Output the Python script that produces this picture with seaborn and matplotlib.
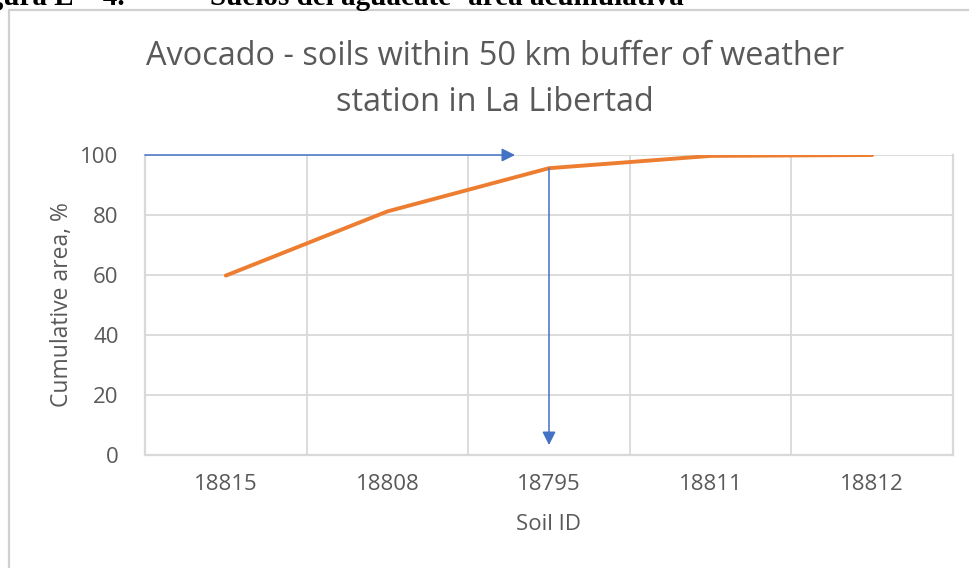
import matplotlib
matplotlib.use("Agg")
import matplotlib.pyplot as plt
from matplotlib.patches import Rectangle
import seaborn as sns
import pandas as pd

# Soils ranked by area, with their cumulative share of the buffer area
soil_ids = ["18815", "18808", "18795", "18811", "18812"]
cumulative_area = [59.8, 81.2, 95.6, 99.7, 100.0]
y_ticks = [0, 20, 40, 60, 80, 100]

# Guide arrows: across at 100 %, then down from soil 18795
arrow_level = 100
arrow_end_x = 1.79
drop_soil_index = 2
drop_from = 95.6
drop_to = 3.3

TEXT = "#595959"
GRID = "#D9D9D9"
ORANGE = "#ED7D31"
BLUE = "#4472C4"

sns.set_theme(style="white")
plt.rcParams["font.family"] = ["Open Sans", "DejaVu Sans"]

W, H = 970, 568
fig = plt.figure(figsize=(W / 100, H / 100), dpi=100)
ax = fig.add_axes([145 / W, 1 - 455 / H, (953 - 145) / W, 300 / H])

df = pd.DataFrame({"Soil ID": soil_ids, "Cumulative area, %": cumulative_area})
sns.lineplot(data=df, x="Soil ID", y="Cumulative area, %", sort=False,
             color=ORANGE, lw=2.8, ax=ax, zorder=3)

ax.set_xlim(-0.5, len(soil_ids) - 0.5)
ax.set_ylim(0, 100)
ax.set_yticks(y_ticks)
ax.set_xticks(range(len(soil_ids)))
ax.set_xticklabels(soil_ids)
ax.set_xticks([i + 0.5 for i in range(len(soil_ids))], minor=True)
ax.grid(True, axis="y", which="major", color=GRID, lw=1.3)
ax.grid(True, axis="x", which="minor", color=GRID, lw=1.3)
ax.grid(False, axis="x", which="major")
ax.tick_params(axis="both", which="both", length=0, colors=TEXT, labelsize=16)
ax.tick_params(axis="x", pad=14)
ax.tick_params(axis="y", pad=19)

for side in ["left", "bottom", "right"]:
    ax.spines[side].set_color(GRID)
    ax.spines[side].set_linewidth(1.6)
ax.spines["top"].set_visible(False)

ax.set_xlabel("Soil ID", color=TEXT, fontsize=16, va="center")
ax.set_ylabel("Cumulative area, %", color=TEXT, fontsize=16.5, va="center")
ax.xaxis.set_label_coords(0.5, (455 - 525) / 300)
ax.yaxis.set_label_coords((62 - 145) / 808, 0.5)

ax.annotate("", xy=(arrow_end_x, arrow_level), xytext=(-0.5, arrow_level),
            arrowprops=dict(arrowstyle="-|>", color=BLUE, lw=1.1,
                            mutation_scale=20, shrinkA=0, shrinkB=0),
            annotation_clip=False, zorder=4)
ax.annotate("", xy=(drop_soil_index, drop_to), xytext=(drop_soil_index, drop_from),
            arrowprops=dict(arrowstyle="-|>", color=BLUE, lw=1.1,
                            mutation_scale=20, shrinkA=0, shrinkB=0),
            annotation_clip=False, zorder=4)

fig.text(495 / W, 1 - 65 / H, "Avocado - soils within 50 km buffer of weather",
         ha="center", va="baseline", color=TEXT, fontsize=23.4)
fig.text(495 / W, 1 - 111 / H, "station in La Libertad",
         ha="center", va="baseline", color=TEXT, fontsize=23.4)

# Chart frame and the figure caption above it
fig.add_artist(Rectangle((9 / W, -0.2), 1.2, 1.2 - 10 / H, transform=fig.transFigure,
                         fill=False, edgecolor="#D0D0D0", lw=1.6))
fig.text(125 / W, 1 - 5 / H, "Figura E – 4.", ha="right", va="baseline",
         family="Liberation Serif", weight="bold", fontsize=21, color="black")
fig.text(210 / W, 1 - 5 / H, "Suelos del aguacate- área acumulativa", ha="left",
         va="baseline", family="Liberation Serif", weight="bold", fontsize=21,
         color="black")

fig.savefig("out.png", dpi=100, facecolor="white")
